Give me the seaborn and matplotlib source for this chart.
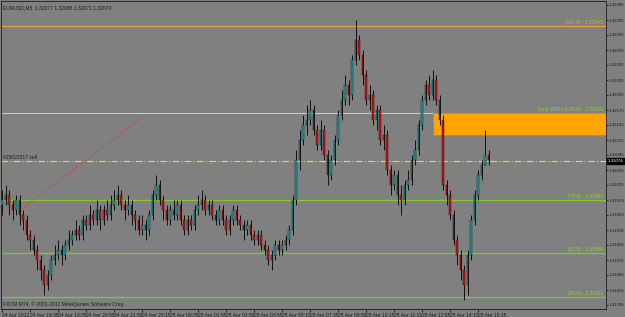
import matplotlib
matplotlib.use("Agg")
import matplotlib.pyplot as plt
import matplotlib.transforms as mtransforms
from matplotlib.patches import Rectangle
import numpy as np
import pandas as pd
import seaborn as sns

# ---------------- data (EURUSD, M5) ----------------
open_ = [1.31985,1.31995,1.32005,1.31985,1.31975,1.31995,1.31965,1.31955,1.31925,1.31915,
         1.31895,1.31875,1.31855,1.31825,1.31845,1.31875,1.31885,1.31895,1.31885,1.31905,
         1.31915,1.31925,1.31935,1.31925,1.31955,1.31945,1.31965,1.31955,1.31975,1.31955,
         1.31975,1.31965,1.31985,1.31995,1.32005,1.31985,1.31975,1.31985,1.31965,1.31955,
         1.31935,1.31945,1.31935,1.31965,1.32005,1.32025,1.31995,1.31975,1.31955,1.31975,
         1.31965,1.31985,1.31955,1.31935,1.31955,1.31945,1.31975,1.31985,1.31995,1.31975,
         1.31985,1.31965,1.31955,1.31975,1.31955,1.31935,1.31955,1.31975,1.31955,1.31945,
         1.31935,1.31945,1.31925,1.31915,1.31925,1.31905,1.31895,1.31875,1.31885,1.31905,
         1.31895,1.31905,1.31915,1.31935,1.31995,1.32075,1.32115,1.32145,1.32155,1.32175,
         1.32135,1.32105,1.32135,1.32085,1.32045,1.32075,1.32115,1.32165,1.32195,1.32225,
         1.32205,1.32275,1.32315,1.32285,1.32245,1.32195,1.32205,1.32155,1.32175,1.32115,
         1.32125,1.32055,1.32025,1.32045,1.32005,1.31995,1.32025,1.32035,1.32075,1.32095,
         1.32145,1.32195,1.32225,1.32205,1.32235,1.32195,1.32155,1.32025,1.32005,1.31965,
         1.31915,1.31885,1.31855,1.31825,1.31885,1.31955,1.32005,1.32045,1.32065,1.32085]
close = [1.31995,1.32005,1.31985,1.31975,1.31995,1.31965,1.31955,1.31925,1.31915,1.31895,
         1.31875,1.31855,1.31825,1.31845,1.31875,1.31885,1.31895,1.31885,1.31905,1.31915,
         1.31925,1.31935,1.31925,1.31955,1.31945,1.31965,1.31955,1.31975,1.31955,1.31975,
         1.31965,1.31985,1.31995,1.32005,1.31985,1.31975,1.31985,1.31965,1.31955,1.31935,
         1.31945,1.31935,1.31965,1.32005,1.32025,1.31995,1.31975,1.31955,1.31975,1.31965,
         1.31985,1.31955,1.31935,1.31955,1.31945,1.31975,1.31985,1.31995,1.31975,1.31985,
         1.31965,1.31955,1.31975,1.31955,1.31935,1.31955,1.31975,1.31955,1.31945,1.31935,
         1.31945,1.31925,1.31915,1.31925,1.31905,1.31895,1.31875,1.31885,1.31905,1.31895,
         1.31905,1.31915,1.31935,1.31995,1.32075,1.32115,1.32145,1.32155,1.32175,1.32135,
         1.32105,1.32135,1.32085,1.32045,1.32075,1.32115,1.32165,1.32195,1.32225,1.32205,
         1.32275,1.32315,1.32285,1.32245,1.32195,1.32205,1.32155,1.32175,1.32115,1.32125,
         1.32055,1.32025,1.32045,1.32005,1.31995,1.32025,1.32035,1.32075,1.32095,1.32145,
         1.32195,1.32225,1.32205,1.32235,1.32195,1.32155,1.32025,1.32005,1.31965,1.31915,
         1.31885,1.31855,1.31825,1.31885,1.31955,1.32005,1.32045,1.32065,1.32085,1.32075]
high = [1.32015,1.32025,1.32015,1.31995,1.32005,1.32005,1.31975,1.31965,1.31935,1.31925,
        1.31905,1.31885,1.31865,1.31855,1.31885,1.31905,1.31915,1.31905,1.31915,1.31935,
        1.31935,1.31955,1.31945,1.31965,1.31965,1.31985,1.31975,1.31995,1.31985,1.31985,
        1.31995,1.32005,1.32015,1.32025,1.32015,1.31995,1.32005,1.31995,1.31975,1.31965,
        1.31965,1.31955,1.31975,1.32015,1.32045,1.32035,1.32005,1.31985,1.31985,1.31995,
        1.31995,1.31995,1.31965,1.31965,1.31965,1.31985,1.32005,1.32015,1.32005,1.31995,
        1.31995,1.31975,1.31985,1.31985,1.31965,1.31965,1.31985,1.31985,1.31965,1.31955,
        1.31955,1.31955,1.31935,1.31935,1.31935,1.31915,1.31905,1.31895,1.31915,1.31915,
        1.31915,1.31925,1.31945,1.32005,1.32095,1.32135,1.32165,1.32185,1.32195,1.32185,
        1.32145,1.32155,1.32145,1.32095,1.32085,1.32125,1.32175,1.32215,1.32245,1.32235,
        1.32285,1.32355,1.32325,1.32295,1.32255,1.32225,1.32215,1.32185,1.32185,1.32145,
        1.32135,1.32065,1.32055,1.32055,1.32025,1.32035,1.32055,1.32085,1.32115,1.32155,
        1.32205,1.32235,1.32245,1.32255,1.32245,1.32205,1.32165,1.32035,1.32015,1.31975,
        1.31925,1.31895,1.31865,1.31895,1.31965,1.32015,1.32055,1.32075,1.32135,1.32095]
low = [1.31965,1.31985,1.31965,1.31955,1.31965,1.31945,1.31935,1.31915,1.31895,1.31885,
       1.31855,1.31835,1.31805,1.31815,1.31835,1.31865,1.31875,1.31865,1.31875,1.31895,
       1.31905,1.31915,1.31915,1.31915,1.31935,1.31935,1.31945,1.31945,1.31935,1.31945,
       1.31955,1.31955,1.31975,1.31985,1.31975,1.31955,1.31965,1.31945,1.31935,1.31925,
       1.31925,1.31915,1.31925,1.31955,1.31995,1.31985,1.31955,1.31945,1.31945,1.31955,
       1.31955,1.31945,1.31925,1.31925,1.31935,1.31935,1.31965,1.31975,1.31965,1.31965,
       1.31955,1.31945,1.31945,1.31945,1.31925,1.31925,1.31945,1.31945,1.31935,1.31915,
       1.31925,1.31915,1.31905,1.31905,1.31895,1.31885,1.31865,1.31855,1.31875,1.31885,
       1.31885,1.31895,1.31905,1.31925,1.31985,1.32055,1.32105,1.32125,1.32145,1.32125,
       1.32095,1.32095,1.32075,1.32025,1.32035,1.32065,1.32105,1.32155,1.32185,1.32185,
       1.32195,1.32265,1.32275,1.32225,1.32185,1.32175,1.32145,1.32135,1.32105,1.32095,
       1.32045,1.32005,1.32015,1.31985,1.31965,1.31985,1.32015,1.32025,1.32065,1.32085,
       1.32135,1.32185,1.32195,1.32195,1.32185,1.32145,1.32015,1.31985,1.31955,1.31905,
       1.31865,1.31835,1.31795,1.31805,1.31875,1.31945,1.31995,1.32035,1.32065,1.32065]

date_tick_bars = [0, 8, 16, 24, 32, 40, 48, 56, 64, 72, 80, 88, 96, 104, 112, 120, 128, 136]
date_tick_labels = ["24 Apr 2012", "24 Apr 18:35", "24 Apr 19:35", "24 Apr 20:55", "24 Apr 21:55",
                    "24 Apr 23:15", "25 Apr 00:35", "25 Apr 01:55", "25 Apr 02:55", "25 Apr 03:55",
                    "25 Apr 05:15", "25 Apr 07:35", "25 Apr 08:55", "25 Apr 10:15", "25 Apr 11:15",
                    "25 Apr 12:55", "25 Apr 14:15", "25 Apr 15:15"]
price_ticks = [1.31785, 1.31815, 1.31845, 1.31875, 1.31905, 1.31935, 1.31965, 1.31995, 1.32025,
               1.32055, 1.32085, 1.32115, 1.32145, 1.32175, 1.32205, 1.32235, 1.32265, 1.32295,
               1.32325, 1.32355, 1.32385]

fib_levels = [1.32343, 1.31995, 1.31889, 1.31801]
fib_labels = ["[161.8] - 1.32343", "[78.6] - 1.31995", "[61.8] - 1.31889", "[50.0] - 1.31801"]
daily_level = 1.32169
daily_label = "Daily R3R4 [100.0] - 1.32169"
zone_top, zone_bottom = 1.32169, 1.32125
zone_start_bar = 123
order_level = 1.32073
order_label = "#25022517 sell"
trend_bars = [4.6, 39.4]
trend_prices = [1.31971, 1.32157]
header = "EURUSD,M5  1.32077 1.32088 1.32071 1.32074"
last_price = "1.32074"
copyright_txt = "FXCM MT4, \u00a9 2001-2012 MetaQuotes Software Corp."

# ---------------- style ----------------
BG = "#808080"
DARK = "#1c1c1c"
sns.set_theme(style="ticks", rc={"axes.facecolor": BG, "figure.facecolor": BG})
plt.rcParams["font.family"] = ["Liberation Sans Narrow", "Liberation Sans", "DejaVu Sans"]

W, H = 625, 317
fig = plt.figure(figsize=(W / 100, H / 100), dpi=100)
ax = fig.add_axes([1 / W, 8 / H, 605 / W, 308 / H])
ax.set_facecolor(BG)

df = pd.DataFrame({"open": open_, "close": close, "high": high, "low": low})
df["bar"] = np.arange(len(df))
bull = df["close"] >= df["open"]

# wicks
ax.vlines(df["bar"], df["low"], df["high"], color="#111111", lw=0.7, zorder=2)
# bodies
body_bottom = np.minimum(df["open"], df["close"])
body_h = (df["close"] - df["open"]).abs()
ax.bar(df["bar"][bull], body_h[bull], bottom=body_bottom[bull], width=0.55,
       color="#17a0a0", edgecolor="#111111", linewidth=0.3, zorder=3)
ax.bar(df["bar"][~bull], body_h[~bull], bottom=body_bottom[~bull], width=0.55,
       color="#d01010", edgecolor="#111111", linewidth=0.3, zorder=3)

# horizontal levels
ax.axhline(fib_levels[0], color="#e8a030", lw=0.9, zorder=1)
for lv in fib_levels[1:]:
    ax.axhline(lv, color="#80cc22", lw=0.9, zorder=1)
ax.axhline(daily_level, color="#c8c8c8", lw=0.8, zorder=1)
ax.axhline(order_level, color="#d8d878", lw=0.8, ls=(0, (6, 2, 1, 2)), zorder=1)

# supply zone
ax.add_patch(Rectangle((zone_start_bar, zone_bottom), 200, zone_top - zone_bottom,
                       facecolor="#ffa500", edgecolor="#cc8400", lw=0.6, zorder=1.5))

# trend line (red dotted)
tl = pd.DataFrame({"bar": trend_bars, "price": trend_prices})
sns.lineplot(data=tl, x="bar", y="price", ax=ax, color="#e03030", lw=0.7,
             linestyle=(0, (1, 1.5)), zorder=1.2)

ax.set_xlim(-0.286, 172.57)
ax.set_ylim(1.31777, 1.32393)

# labels on levels
trans = mtransforms.blended_transform_factory(ax.transAxes, ax.transData)
fs = 3.6
ax.text(0.995, fib_levels[0] + 0.00002, fib_labels[0], transform=trans, ha="right", va="bottom",
        fontsize=fs, color="#e8a030")
for lv, lab in zip(fib_levels[1:], fib_labels[1:]):
    ax.text(0.995, lv + 0.00002, lab, transform=trans, ha="right", va="bottom",
            fontsize=fs, color="#90d030")
ax.text(0.995, daily_level + 0.00002, daily_label, transform=trans, ha="right", va="bottom",
        fontsize=fs, color="#90d030")
ax.text(0.004, order_level + 0.00002, order_label, transform=trans, ha="left", va="bottom",
        fontsize=fs, color=DARK)

# header + copyright
ax.text(0.004, 0.985, header, transform=ax.transAxes, ha="left", va="top", fontsize=fs, color=DARK)
ax.text(0.004, 0.008, copyright_txt, transform=ax.transAxes, ha="left", va="bottom",
        fontsize=fs, color=DARK)

# axes / ticks
yfs = 3.2
ax.yaxis.tick_right()
ax.set_yticks(price_ticks)
ax.set_yticklabels([f"{p:.5f}" for p in price_ticks])
ax.tick_params(axis="y", direction="out", length=1.5, width=0.6, pad=0.6, labelsize=yfs,
               colors=DARK)
ax.set_xticks(date_tick_bars)
ax.set_xticklabels(date_tick_labels)
ax.tick_params(axis="x", direction="out", length=2, width=0.6, pad=0.6, labelsize=fs, colors=DARK)
for lbl in ax.get_xticklabels():
    lbl.set_horizontalalignment("left")
ax.set_xlabel("")
ax.set_ylabel("")
for side in ["left", "top", "right", "bottom"]:
    ax.spines[side].set_color("#2a2a2a")
    ax.spines[side].set_linewidth(0.7)

# current price tag
ax.annotate(last_price, xy=(1.0, order_level), xycoords=trans, xytext=(1.2, 0),
            textcoords="offset points", ha="left", va="center", fontsize=yfs, color="white",
            bbox=dict(boxstyle="square,pad=0.12", fc="black", ec="black"), annotation_clip=False)

fig.savefig("out.png", dpi=100, facecolor=BG)
